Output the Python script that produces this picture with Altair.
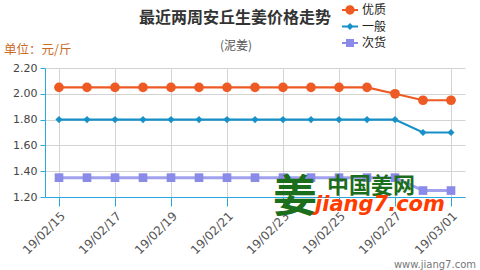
import altair as alt
import pandas as pd

dates = ["19/02/15", "19/02/16", "19/02/17", "19/02/18", "19/02/19", "19/02/20",
         "19/02/21", "19/02/22", "19/02/23", "19/02/24", "19/02/25", "19/02/26",
         "19/02/27", "19/02/28", "19/03/01"]
tick_dates = ["19/02/15", "19/02/17", "19/02/19", "19/02/21", "19/02/23",
              "19/02/25", "19/02/27", "19/03/01"]
series = ["优质", "一般", "次货"]
youzhi = [2.05, 2.05, 2.05, 2.05, 2.05, 2.05, 2.05, 2.05, 2.05, 2.05, 2.05, 2.05, 2.00, 1.95, 1.95]
yiban = [1.80, 1.80, 1.80, 1.80, 1.80, 1.80, 1.80, 1.80, 1.80, 1.80, 1.80, 1.80, 1.80, 1.70, 1.70]
cihuo = [1.35, 1.35, 1.35, 1.35, 1.35, 1.35, 1.35, 1.35, 1.35, 1.35, 1.35, 1.35, 1.35, 1.25, 1.25]
y_ticks = [1.2, 1.4, 1.6, 1.8, 2.0, 2.2]

title_text = "最近两周安丘生姜价格走势"
subtitle_text = "(泥姜)"
unit_text = "单位：元/斤"
site_text = "www.jiang7.com"

colors = ["#ee5a24", "#1790c8", "#8a8ae8"]
line_opacity = [1, 1, 0.8]
line_widths = [2.2, 2.2, 3]
marker_shapes = ["circle", "diamond", "square"]
marker_sizes = [95, 50, 75]

rows = []
for name, vals in zip(series, [youzhi, yiban, cihuo]):
    for d, v in zip(dates, vals):
        rows.append({"date": d, "price": v, "series": name})
df = pd.DataFrame(rows)

xenc = alt.X("date:O", sort=dates, title=None,
             scale=alt.Scale(type="point", padding=0.5),
             axis=alt.Axis(values=tick_dates, labelAngle=315, labelAlign="right",
                           labelBaseline="top", labelFontSize=12, labelFont="DejaVu Sans",
                           labelColor="#555555", tickSize=9, tickColor="#29a9e0",
                           domainColor="#29a9e0", gridColor="#d3d3d3", grid=True,
                           labelPadding=4))
yenc = alt.Y("price:Q", title=None,
             scale=alt.Scale(domain=[1.2, 2.2], nice=False, zero=False),
             axis=alt.Axis(values=y_ticks, format=".2f", labelFontSize=11,
                           labelFont="DejaVu Sans", labelColor="#444444",
                           tickSize=5, tickColor="#29a9e0", domainColor="#29a9e0",
                           gridColor="#d3d3d3", labelPadding=3))
color_scale = alt.Scale(domain=series, range=colors)

series_layers = []
for name, col, op, lw, shp, sz in zip(series, colors, line_opacity, line_widths,
                                       marker_shapes, marker_sizes):
    base = alt.Chart(df).transform_filter(alt.datum.series == name)
    series_layers.append(
        base.mark_line(color=col, strokeWidth=lw, opacity=op).encode(x=xenc, y=yenc)
    )
    series_layers.append(
        base.mark_point(shape=shp, filled=True, size=sz, opacity=1, color=col)
        .encode(x=xenc, y=yenc)
    )

legend_paths = [
    "M-1,-0.13H1V0.13H-1Z M0.58,0A0.58,0.58 0 1,1 -0.58,0A0.58,0.58 0 1,1 0.58,0Z",
    "M-1,-0.13H1V0.13H-1Z M0,-0.44L0.44,0L0,0.44L-0.44,0Z",
    "M-1,-0.13H1V0.13H-1Z M-0.5,-0.5H0.5V0.5H-0.5Z",
]
leg = alt.Legend(title=None, orient="none", legendX=297, legendY=-66, padding=0,
                 rowPadding=2.5, symbolSize=256, symbolStrokeWidth=0,
                 symbolOpacity=1, labelFont="Noto Sans CJK SC", labelFontSize=12,
                 labelColor="#222222", labelOffset=4, direction="vertical")
legend_layer = alt.Chart(df).mark_point(filled=True, opacity=0).encode(
    x=xenc, y=yenc,
    color=alt.Color("series:N", scale=color_scale, legend=leg),
    shape=alt.Shape("series:N", scale=alt.Scale(domain=series, range=legend_paths), legend=leg),
)

def label(text, x, y, size, color, weight="normal", align="center", font="Noto Sans CJK SC", style="normal"):
    return alt.Chart(pd.DataFrame({"t": [text]})).mark_text(
        fontSize=size, color=color, fontWeight=weight, align=align,
        baseline="alphabetic", font=font, fontStyle=style
    ).encode(text="t:N", x=alt.value(x), y=alt.value(y))

texts = [
    label(title_text, 190, -45, 16, "#333333", weight="bold"),
    label(subtitle_text, 191, -18, 12, "#555555"),
    label(unit_text, -41, -14, 12.5, "#cc6a1f", align="left"),
    label(site_text, 431, 200, 10, "#777777", align="right", font="DejaVu Sans"),
    label("姜", 250, 144, 44, "#1b6e1b", weight="bold"),
    label("中国姜网", 326, 125, 22, "#1b6e1b", weight="bold"),
    label("jiang7.com", 270, 143, 21, "#ff3c00", weight="bold", align="left",
          font="DejaVu Sans", style="italic"),
]

chart = alt.layer(*series_layers, legend_layer, *texts).properties(
    width=420, height=129,
    autosize=alt.AutoSizeParams(type="none"),
    padding={"left": 45, "top": 68, "right": 15, "bottom": 73},
    background="white",
).configure_view(stroke=None)

chart.save("out.html", embed_options={"renderer": "svg", "actions": False})
